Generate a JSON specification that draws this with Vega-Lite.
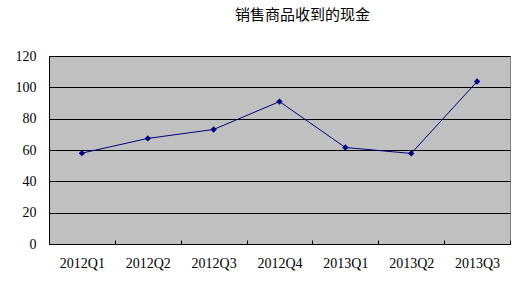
{
  "$schema": "https://vega.github.io/schema/vega-lite/v6.json",
  "autosize": "none",
  "width": 461,
  "height": 188,
  "padding": {"left": 49, "top": 56, "right": 11, "bottom": 40},
  "background": "white",
  "title": {
    "text": "销售商品收到的现金",
    "font": "Noto Sans CJK SC",
    "fontSize": 15,
    "fontWeight": "normal",
    "color": "black",
    "anchor": "middle",
    "dx": 23,
    "offset": 26
  },
  "config": {
    "view": {"fill": "#C0C0C0", "stroke": "#808080", "strokeWidth": 1},
    "axis": {
      "labelFont": "Liberation Serif",
      "labelFontSize": 14,
      "labelColor": "black",
      "domainColor": "black",
      "domainWidth": 1,
      "tickColor": "black",
      "titleFont": "Liberation Serif"
    }
  },
  "data": {
    "values": [
      {"quarter": "2012Q1", "value": 58},
      {"quarter": "2012Q2", "value": 67.4},
      {"quarter": "2012Q3", "value": 73.1},
      {"quarter": "2012Q4", "value": 90.9},
      {"quarter": "2013Q1", "value": 61.6},
      {"quarter": "2013Q2", "value": 57.8},
      {"quarter": "2013Q3", "value": 103.7}
    ]
  },
  "encoding": {
    "x": {
      "field": "quarter",
      "type": "ordinal",
      "scale": {"paddingInner": 0, "paddingOuter": 0},
      "axis": {
        "title": null,
        "labelAngle": 0,
        "labelPadding": 23,
        "tickBand": "extent",
        "tickSize": -4,
        "labelBaseline": "middle"
      }
    },
    "y": {
      "field": "value",
      "type": "quantitative",
      "scale": {"domain": [0, 120], "nice": false},
      "axis": {
        "title": null,
        "values": [0, 20, 40, 60, 80, 100, 120],
        "grid": true,
        "gridColor": "black",
        "gridOpacity": 1,
        "gridWidth": 1,
        "ticks": false,
        "labelPadding": 13
      }
    }
  },
  "layer": [
    {"mark": {"type": "line", "color": "#000080", "strokeWidth": 1}},
    {"mark": {"type": "point", "shape": "diamond", "filled": true, "color": "#000080", "size": 40, "opacity": 1}}
  ]
}
